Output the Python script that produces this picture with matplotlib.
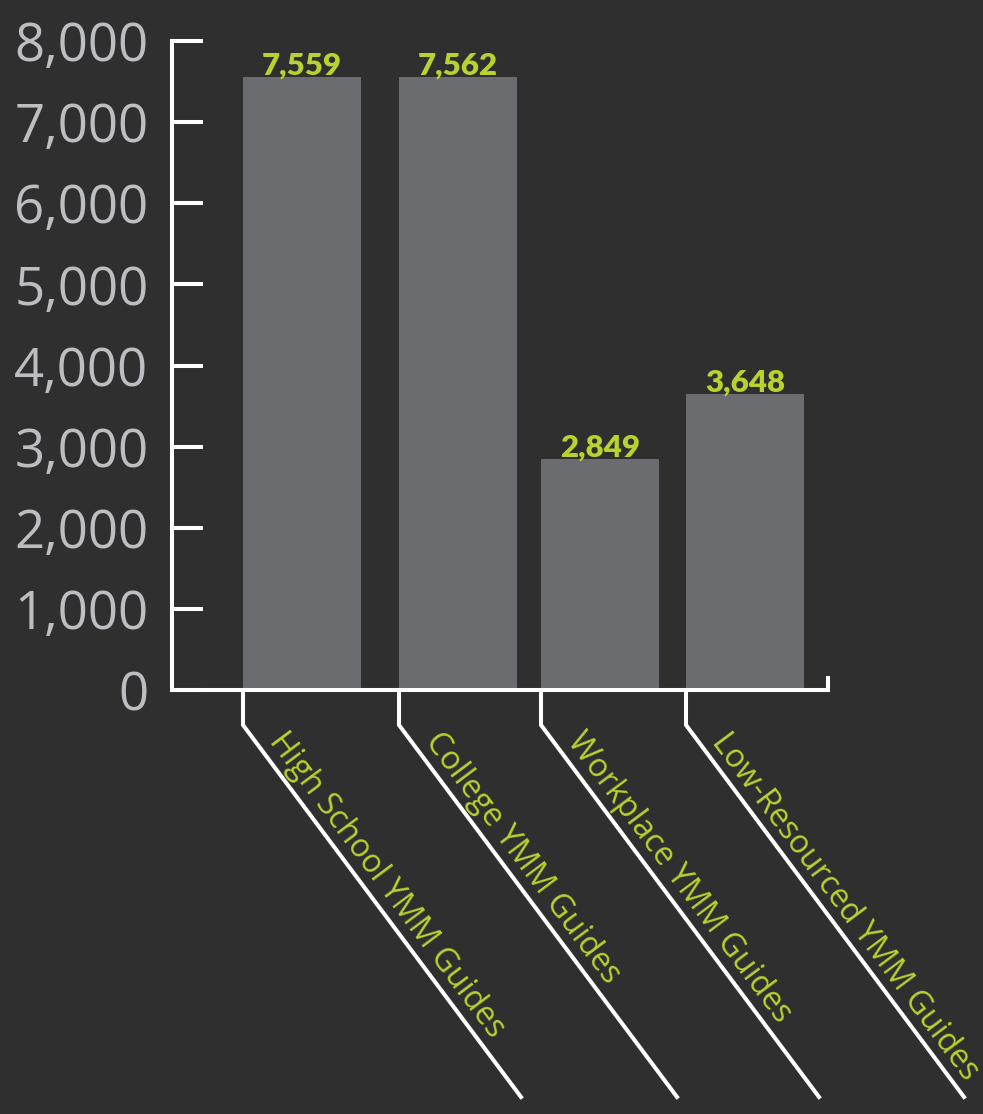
import matplotlib.pyplot as plt
import matplotlib.transforms as mtransforms

# Data
categories = ["High School YMM Guides", "College YMM Guides",
              "Workplace YMM Guides", "Low-Resourced YMM Guides"]
values = [7559, 7562, 2849, 3648]
yticks = [0, 1000, 2000, 3000, 4000, 5000, 6000, 7000, 8000]

# Layout (bar centres are unevenly spaced in the original)
x_pos = [1.30, 2.86, 4.28, 5.73]
bar_width = 1.18

bg = "#2f2f2f"
bar_color = "#6b6c70"
green = "#b8d22f"
tick_color = "#bdbec2"
line_w = 2.9

fig = plt.figure(figsize=(9.83, 11.14), dpi=100, facecolor=bg)
ax = fig.add_axes([172 / 983, (1114 - 690) / 1114, (828 - 172) / 983, 649 / 1114])
ax.set_facecolor(bg)

ax.bar(x_pos, values, width=bar_width, color=bar_color, zorder=2)
ax.set_xlim(0, 6.56)
ax.set_ylim(0, 8000)

for x, v in zip(x_pos, values):
    ax.annotate(f"{v:,}", (x, v), xytext=(0, 1.5), textcoords="offset points",
                ha="center", va="baseline", color=green, fontsize=22.5,
                fontweight="heavy", family=["Lato", "DejaVu Sans"])

# Axes styling
for side in ["top", "right"]:
    ax.spines[side].set_visible(False)
for side in ["left", "bottom"]:
    ax.spines[side].set_color("white")
    ax.spines[side].set_linewidth(line_w)
    ax.spines[side].set_capstyle("projecting")

ax.set_yticks(yticks)
ax.set_yticklabels([f"{t:,}" for t in yticks])
ax.tick_params(axis="y", direction="in", length=22.3, width=line_w, color="white",
               pad=17, labelsize=38, labelcolor=tick_color)
for lbl in ax.get_yticklabels():
    lbl.set_family("Open Sans")
ax.set_xticks([])

# small upturn at the right end of the base line
ax.plot([1, 1], [0, 12 / 649], transform=ax.transAxes, color="white",
        lw=line_w, clip_on=False, solid_capstyle="projecting")

# Leader lines and rotated category labels
angle = 53.2
for x, name in zip(x_pos, categories):
    x0 = x - bar_width / 2
    trans = fig.dpi_scale_trans + mtransforms.ScaledTranslation(x0, 0, ax.transData)
    ax.plot([0, 0, 2.78], [0, -0.35, -4.07], transform=trans, color="white",
            lw=line_w, clip_on=False, solid_joinstyle="miter")
    ax.text(0.25, -0.515, name, transform=trans, rotation=-angle,
            rotation_mode="anchor", ha="left", va="baseline",
            color=green, fontsize=23, family="Open Sans", clip_on=False)

fig.savefig("out.png", dpi=100, facecolor=bg)
